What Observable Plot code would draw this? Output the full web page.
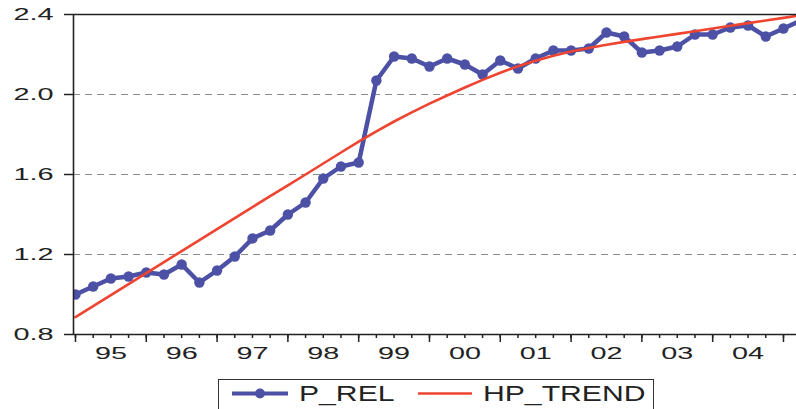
<!DOCTYPE html>
<html><head><meta charset="utf-8">
<script src="https://cdn.jsdelivr.net/npm/d3@7"></script>
<script src="https://cdn.jsdelivr.net/npm/@observablehq/plot@0.6"></script>
<style>
html,body{margin:0;padding:0;background:#fff;width:796px;height:409px;overflow:hidden;}
#chart{position:absolute;left:0;top:0;}
#legend{position:absolute;left:218px;top:379px;width:434px;height:40px;border:1.5px solid #333;background:#fff;}
#legend .lt{position:absolute;top:2.8px;font-family:"Liberation Sans",Arial,sans-serif;font-size:22px;line-height:22px;color:#222;transform:scaleX(1.37);transform-origin:left center;white-space:nowrap;}
#legend svg{position:absolute;top:0;}
</style></head><body>
<div id="chart"></div>
<div id="legend"></div>
<script>
// quarterly periods
const periods = [
  "1995Q1","1995Q2","1995Q3","1995Q4","1996Q1","1996Q2","1996Q3","1996Q4",
  "1997Q1","1997Q2","1997Q3","1997Q4","1998Q1","1998Q2","1998Q3","1998Q4",
  "1999Q1","1999Q2","1999Q3","1999Q4","2000Q1","2000Q2","2000Q3","2000Q4",
  "2001Q1","2001Q2","2001Q3","2001Q4","2002Q1","2002Q2","2002Q3","2002Q4",
  "2003Q1","2003Q2","2003Q3","2003Q4","2004Q1","2004Q2","2004Q3","2004Q4",
  "2005Q1","2005Q2"
];
const pRel = [
  1.00,1.04,1.08,1.09,1.11,1.10,1.15,1.06,
  1.12,1.19,1.28,1.32,1.40,1.46,1.58,1.64,
  1.66,2.07,2.19,2.18,2.14,2.18,2.15,2.10,
  2.17,2.13,2.18,2.22,2.22,2.23,2.31,2.29,
  2.21,2.22,2.24,2.30,2.30,2.335,2.345,2.29,
  2.33,2.37
];
const hpTrend = [
  0.887,0.942,0.997,1.052,1.107,1.162,1.217,1.272,
  1.327,1.382,1.437,1.492,1.546,1.600,1.655,1.710,
  1.764,1.816,1.865,1.911,1.954,1.995,2.035,2.073,
  2.109,2.141,2.169,2.194,2.215,2.233,2.249,2.263,
  2.277,2.290,2.303,2.316,2.330,2.344,2.357,2.370,
  2.383,2.396
];
const yTicks = [0.8, 1.2, 1.6, 2.0, 2.4];
const gridValues = [1.2, 1.6, 2.0];
const yearStarts = [1995,1996,1997,1998,1999,2000,2001,2002,2003,2004,2005];
const yearLabels = ["95","96","97","98","99","00","01","02","03","04"];
const seriesNames = ["P_REL", "HP_TREND"];

const BLUE = "#4c51a6", RED = "#ee4430", INK = "#222";
const toT = p => +p.slice(0,4) + (+p.slice(5) - 1) / 4;
const data = periods.map((p, i) => ({t: toT(p), p_rel: pRel[i], hp: hpTrend[i]}));
const xDomain = [1994.972, 2005.184];
const quarterTicks = periods.map(toT).filter(t => t <= xDomain[1]);
const labelPos = yearLabels.map((_, i) => yearStarts[i] + 0.5);

const chart = Plot.plot({
  width: 796, height: 370,
  marginLeft: 73, marginRight: 0, marginTop: 14, marginBottom: 36,
  style: {fontFamily: "Liberation Sans, Arial, sans-serif", fontSize: "16px", color: INK, background: "#fff"},
  x: {domain: xDomain, axis: null},
  y: {domain: [0.8, 2.4], axis: null},
  marks: [
    Plot.ruleY(gridValues, {stroke: "#8a8a8a", strokeWidth: 1, strokeDasharray: "7,5"}),
    Plot.axisY(yTicks, {tickSize: 9, tickPadding: 11, tickFormat: d3.format(".1f"), stroke: INK, strokeWidth: 1.5, fill: INK, label: null}),
    Plot.axisX(quarterTicks, {tickSize: 4, tickFormat: () => "", stroke: INK, strokeWidth: 1.5, label: null}),
    Plot.axisX(yearStarts, {tickSize: 8, tickFormat: () => "", stroke: INK, strokeWidth: 1.5, label: null}),
    Plot.axisX(labelPos, {tickSize: 0, tickPadding: 13, tickFormat: d => yearLabels[yearStarts.indexOf(d - 0.5)], fill: INK, label: null}),
    Plot.line(data, {x: "t", y: "p_rel", stroke: BLUE, strokeWidth: 4.5, clip: true}),
    Plot.dot(data, {x: "t", y: "p_rel", r: 5.2, fill: BLUE, stroke: "none", clip: true}),
    Plot.line(data, {x: "t", y: "hp", stroke: RED, strokeWidth: 2.6, clip: true}),
    Plot.ruleY([0.8], {stroke: INK, strokeWidth: 1.6}),
    Plot.ruleY([2.4], {stroke: INK, strokeWidth: 1.6}),
    Plot.ruleX([xDomain[0]], {stroke: INK, strokeWidth: 1.6})
  ]
});
document.getElementById("chart").appendChild(chart);

// stretch tick labels horizontally (glyphs widened in place) to match the wide reference glyphs
d3.select(chart).selectAll('[aria-label$="tick label"] text').each(function() {
  const w = this.getComputedTextLength();
  if (w > 0) {
    this.setAttribute("textLength", (w * 1.8).toFixed(1));
    this.setAttribute("lengthAdjust", "spacingAndGlyphs");
  }
});

// legend
const lg = document.getElementById("legend");
lg.innerHTML = `
  <svg style="left:12.5px" width="58" height="28"><line x1="0" x2="56" y1="13.5" y2="13.5" stroke="${BLUE}" stroke-width="4"/><circle cx="28" cy="13.5" r="5" fill="${BLUE}"/></svg>
  <span class="lt" style="left:79.5px">${seriesNames[0]}</span>
  <svg style="left:198.5px" width="56" height="28"><line x1="0" x2="54" y1="13.5" y2="13.5" stroke="${RED}" stroke-width="2.6"/></svg>
  <span class="lt" style="left:263.5px">${seriesNames[1]}</span>`;
</script>
</body></html>
